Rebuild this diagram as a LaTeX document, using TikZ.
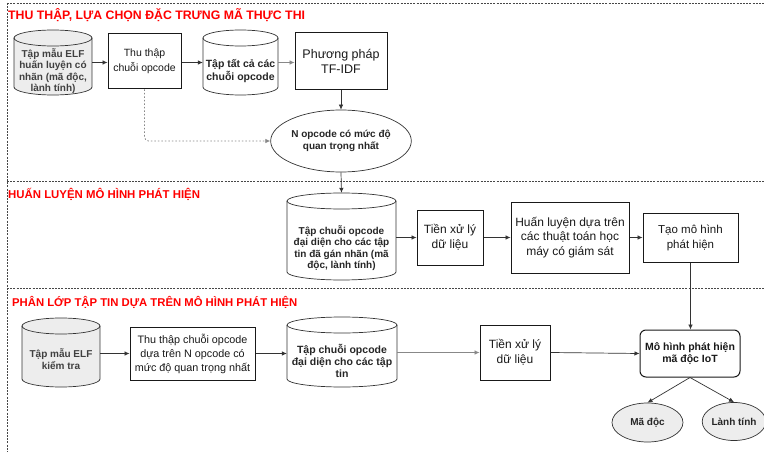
\documentclass[tikz,border=0pt]{standalone}
\usepackage{fontspec}
\setmainfont{Liberation Sans}
\usetikzlibrary{shapes.geometric,arrows.meta}
\definecolor{linec}{HTML}{333333}
\definecolor{lightline}{HTML}{888888}
\definecolor{grayfill}{HTML}{EDEDED}
\definecolor{titlered}{HTML}{FF0000}
\newcommand\myfs[2]{\fontsize{#1}{#2}\selectfont}
\tikzset{
  arr/.style={draw=linec, line width=0.7pt, -{Latex[length=5pt,width=4.5pt]}},
  arrlight/.style={draw=lightline, line width=0.7pt, -{Latex[length=5pt,width=4.5pt]}},
  dotarr/.style={draw=lightline, line width=0.8pt, dash pattern=on 1.5pt off 2pt, rounded corners=4pt, -{Latex[length=5pt,width=4.5pt]}},
  frame/.style={draw=linec!90, line width=0.8pt, dash pattern=on 2pt off 1.2pt},
  box/.style={draw=black!90, line width=1pt, fill=white, inner sep=0, align=center, text=black!90},
  rbox/.style={box, rounded corners=6pt},
  cylline/.style={draw=linec, line width=0.7pt},
  cyltext/.style={inner sep=0, align=center, font=\bfseries\myfs{10}{11.5}, text=black!85},
  oval/.style={ellipse, draw=linec, line width=0.7pt, inner sep=0, align=center, font=\bfseries\myfs{10}{12}, text=black!85},
  title/.style={anchor=base west, inner sep=0, text=titlered, font=\bfseries\myfs{11.5}{13}}
}
\newcommand\mycyl[6]{%
  \fill[#6] (#2,{#3+8}) rectangle (#4,{#5-8});
  \fill[#6] ({(#2+#4)/2},{#3+8}) ellipse [x radius={(#4-#2)/2*1pt}, y radius=8pt];
  \fill[#6] ({(#2+#4)/2},{#5-8}) ellipse [x radius={(#4-#2)/2*1pt}, y radius=8pt];
  \draw[cylline] ({(#2+#4)/2},{#3+8}) ellipse [x radius={(#4-#2)/2*1pt}, y radius=8pt];
  \draw[cylline] (#2,{#3+8}) -- (#2,{#5-8}) arc [start angle=180, end angle=360, x radius={(#4-#2)/2*1pt}, y radius=8pt] -- (#4,{#3+8});
  \node[inner sep=0, minimum width={(#4-#2)*1pt}, minimum height={(#5-#3)*1pt}] (#1) at ({(#2+#4)/2},{(#3+#5)/2}) {};
}
\begin{document}
\begin{tikzpicture}[x=1pt,y=-1pt]
\useasboundingbox[fill=white] (0,0) rectangle (764,452);

% frames
\draw[frame] (7,3) -- (764,3);
\draw[frame] (7,3) -- (7,452);
\draw[frame] (7,181) -- (764,181);
\draw[frame] (7,288) -- (764,288);

% titles
\node[title, font=\bfseries\myfs{12.3}{14}] (t1) at (8,20) {THU THẬP, LỰA CHỌN ĐẶC TRƯNG MÃ THỰC THI};
\node[title, font=\bfseries\myfs{11.4}{13}] (t2) at (8,198) {HUẤN LUYỆN MÔ HÌNH PHÁT HIỆN};
\node[title, font=\bfseries\myfs{11.3}{13}] (t3) at (12,306) {PHÂN LỚP TẬP TIN DỰA TRÊN MÔ HÌNH PHÁT HIỆN};

% section 1
\mycyl{cA}{14}{30}{92}{95}{grayfill}
\node[cyltext, text=black!75] (tA) at (53,71) {Tập mẫu ELF\\huấn luyện có\\nhãn (mã độc,\\lành tính)};
\node[box, minimum width=73pt, minimum height=55pt, font=\myfs{10.5}{15}] (b1) at (144.5,61.5) {Thu thập\\chuỗi opcode};
\mycyl{c2}{203}{30}{278}{95}{white}
\node[cyltext, font=\bfseries\myfs{10.5}{13}] (t2c) at (240.5,71) {Tập tất cả các\\chuỗi opcode};
\node[box, minimum width=92pt, minimum height=57pt, font=\myfs{12.5}{15.5}] (tf) at (341,61.5) {Phương pháp\\TF-IDF};
\node[oval, minimum width=117pt, minimum height=62pt] (N) at (341,141) {N opcode có mức độ\\quan trọng nhất};

\draw[arr] (cA.east) -- (cA.east -| b1.west);
\draw[arr] (b1.east |- cA.east) -- (c2.west);
\draw[arrlight] (c2.east) -- (c2.east -| tf.west);
\draw[arr] (tf.south) -- (N.north);
\draw[dotarr] (b1.south) |- (N.west);

% section 2
\mycyl{cB}{287}{193}{396}{280}{white}
\node[cyltext] (tB) at (341.5,248) {Tập chuỗi opcode\\đại diện cho các tập\\tin đã gán nhãn (mã\\độc, lành tính)};
\node[box, minimum width=66pt, minimum height=55pt, font=\myfs{12}{14.5}] (p1) at (450,237.5) {Tiền xử lý\\dữ liệu};
\node[box, minimum width=118pt, minimum height=71pt, font=\myfs{12}{14.5}] (hl) at (570,237.5) {Huấn luyện dựa trên\\các thuật toán học\\máy có giám sát};
\node[box, minimum width=95pt, minimum height=49pt, font=\myfs{11.5}{15}] (tz) at (690.5,237.5) {Tạo mô hình\\phát hiện};

\draw[arr] (N.south) -- (cB.north);
\draw[arr] (cB.east |- p1.west) -- (p1.west);
\draw[arr] (p1.east) -- (hl.west);
\draw[arr] (hl.east) -- (tz.west);

% section 3
\mycyl{cC}{22}{318}{100}{387}{grayfill}
\node[cyltext, text=black!75] (tC) at (61,359) {Tập mẫu ELF\\kiểm tra};
\node[box, minimum width=125pt, minimum height=53pt, font=\myfs{10.8}{14}] (b2) at (192.5,353.5) {Thu thập chuỗi opcode\\dựa trên N opcode có\\mức độ quan trọng nhất};
\mycyl{cD}{287}{317}{397}{387}{white}
\node[cyltext, font=\bfseries\myfs{10.5}{12}] (tD) at (342,361) {Tập chuỗi opcode\\đại diện cho các tập\\tin};
\node[box, minimum width=70pt, minimum height=55pt, font=\myfs{12}{15}] (p2) at (515,352.5) {Tiền xử lý\\dữ liệu};
\node[rbox, minimum width=100pt, minimum height=47pt, font=\bfseries\myfs{10.5}{12.5}] (mh) at (690,353.5) {Mô hình phát hiện\\mã độc IoT};
\node[oval, fill=grayfill, minimum width=71pt, minimum height=39pt] (md) at (647.5,422.5) {Mã độc};
\node[oval, fill=grayfill, minimum width=57pt, minimum height=38pt] (lt) at (734,421.5) {Lành tính};

\draw[arr] (tz.south) -- (tz.south |- mh.north);
\draw[arr] (cC.east |- b2.west) -- (b2.west);
\draw[arr] (b2.east) -- (b2.east -| cD.west);
\draw[arrlight] (cD.east |- p2.west) -- (p2.west);
\draw[arr] (p2.east) -- (mh.west);
\draw[arr] (mh.south) -- (md.north);
\draw[arr] (mh.south) -- (lt.north);
\end{tikzpicture}
\end{document}
